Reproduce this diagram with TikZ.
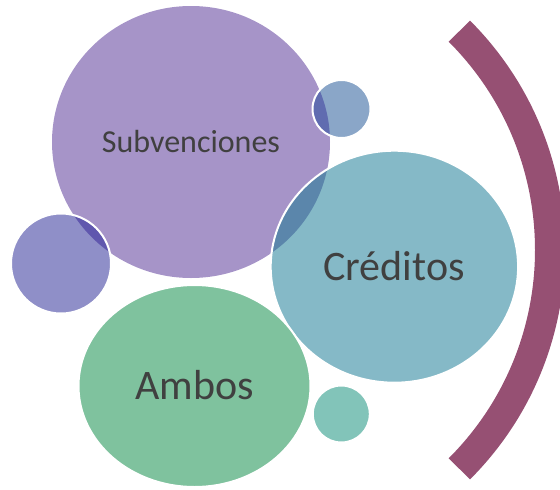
\documentclass[tikz,border=0pt]{standalone}
\usepackage{fontspec}
\setmainfont{Carlito}
\definecolor{cpurple}{HTML}{A694C8}
\definecolor{cteal}{HTML}{85B9C7}
\definecolor{cgreen}{HTML}{7FC29E}
\definecolor{ctop}{HTML}{8AA6C8}
\definecolor{cleft}{HTML}{8F8FC8}
\definecolor{cbot}{HTML}{82C4B9}
\definecolor{carc}{HTML}{965073}
\definecolor{ovcred}{HTML}{5B86AB}
\definecolor{ovtop}{HTML}{606CB0}
\definecolor{ovleft}{HTML}{6057AE}
\definecolor{ctext}{HTML}{404040}
\begin{document}
\begin{tikzpicture}[x=1pt,y=-1pt,
  rim/.style={draw=white,line width=2pt},
  lbl/.style={text=ctext,inner sep=0pt,anchor=base}]
\useasboundingbox (0,0) rectangle (560,490);
% big purple
\def\subpath{(191,142) ellipse [x radius=139,y radius=136]}
\fill[cpurple] \subpath;
% top small circle
\fill[ctop] (341.5,109) circle [radius=29];
\begin{scope}
  \clip (341.5,109) circle [radius=29];
  \fill[ovtop] \subpath;
\end{scope}
\draw[rim] (341.5,109) circle [radius=29];
% left small circle
\fill[cleft] (61,263.5) circle [radius=50];
\begin{scope}
  \clip (61,263.5) circle [radius=50];
  \fill[ovleft] \subpath;
\end{scope}
\draw[rim] (61,263.5) circle [radius=50];
% Creditos
\fill[cteal] (394.4,266.7) ellipse [x radius=123.7,y radius=116];
\begin{scope}
  \clip (394.4,266.7) ellipse [x radius=123.7,y radius=116];
  \fill[ovcred] \subpath;
\end{scope}
\draw[rim] (394.4,266.7) ellipse [x radius=123.7,y radius=116];
% Ambos
\fill[cgreen] (194.5,386) ellipse [x radius=116,y radius=101];
\draw[rim] (194.5,386) ellipse [x radius=116,y radius=101];
% bottom small
\fill[cbot] (341.3,414) circle [radius=28.5];
\draw[rim] (341.3,414) circle [radius=28.5];
% arc
\coordinate (arcc) at (240.5,250);
\draw[carc,line width=30pt] (arcc) ++(-45:309.5) arc[start angle=-45,end angle=45,radius=309.5];
% labels
\node[lbl,font=\fontsize{32}{36}\selectfont] (sub) at (191,152.7) {Subvenciones};
\node[lbl,font=\fontsize{42}{48}\selectfont] (cre) at (394,280.7) {Créditos};
\node[lbl,font=\fontsize{42}{48}\selectfont] (amb) at (194.5,399.3) {Ambos};
\end{tikzpicture}
\end{document}
